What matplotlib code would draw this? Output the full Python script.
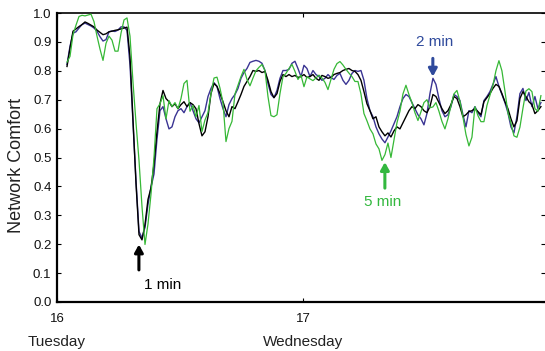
import numpy as np
import matplotlib
matplotlib.use("Agg")
import matplotlib.pyplot as plt
import matplotlib.transforms as mtransforms

plt.rcParams['font.family'] = ['Liberation Sans', 'DejaVu Sans']

# ---- data ----
t_start = 16.0407          # day of month (first sample)
sample_minutes = 17.56     # resampled interval

comfort_1min = [
    .815, .878, .937, .945, .953, .960, .969, .964, .958, .952,
    .941, .933, .925, .928, .935, .937, .940, .942, .945, .948,
    .951, .850, .634, .410, .233, .215, .268, .355, .395, .477,
    .590, .686, .732, .704, .693, .676, .686, .669, .683, .693,
    .676, .690, .683, .669, .617, .575, .589, .641, .721, .756,
    .746, .721, .693, .662, .641, .676, .669, .693, .718, .746,
    .763, .780, .801, .798, .801, .794, .798, .767, .728, .707,
    .721, .763, .787, .780, .787, .780, .784, .777, .780, .787,
    .777, .780, .787, .774, .767, .784, .780, .774, .777, .787,
    .791, .794, .801, .805, .808, .801, .798, .787, .767, .728,
    .686, .662, .634, .641, .606, .589, .575, .585, .571, .592,
    .606, .599, .620, .641, .662, .676, .669, .683, .676, .662,
    .655, .676, .718, .711, .690, .669, .652, .662, .683, .711,
    .704, .676, .641, .648, .659, .662, .669, .659, .648, .693,
    .707, .721, .739, .753, .746, .721, .693, .669, .634, .606,
    .627, .704, .728, .711, .693, .683, .652, .662, .676,
]

comfort_2min = [
    .822, .885, .930, .935, .948, .960, .965, .960, .955, .948,
    .937, .918, .903, .908, .935, .938, .936, .941, .952, .952,
    .940, .820, .620, .420, .244, .222, .258, .338, .397, .443,
    .564, .662, .676, .634, .599, .606, .641, .662, .669, .655,
    .676, .690, .662, .634, .620, .641, .662, .711, .739, .759,
    .746, .704, .669, .641, .683, .704, .718, .739, .774, .794,
    .808, .829, .833, .836, .833, .826, .801, .756, .718, .707,
    .732, .774, .801, .801, .805, .826, .833, .808, .780, .819,
    .808, .780, .801, .787, .780, .767, .774, .787, .777, .770,
    .784, .791, .767, .753, .767, .791, .801, .798, .801, .767,
    .704, .662, .641, .606, .582, .564, .551, .571, .592, .617,
    .641, .676, .704, .718, .711, .690, .669, .648, .634, .613,
    .652, .721, .774, .753, .704, .662, .641, .648, .676, .718,
    .711, .697, .648, .606, .662, .655, .676, .655, .641, .697,
    .711, .728, .753, .780, .746, .718, .690, .655, .606, .585,
    .641, .721, .739, .697, .725, .676, .711, .669, .690,
]

comfort_5min = [
    .830, .850, .925, .958, .988, .992, .990, .993, .996, .970,
    .920, .875, .836, .895, .920, .906, .868, .868, .930, .976,
    .983, .920, .760, .620, .490, .330, .199, .270, .373, .500,
    .669, .686, .714, .634, .697, .676, .690, .669, .704, .756,
    .767, .660, .680, .641, .680, .590, .630, .655, .720, .775,
    .778, .740, .690, .555, .600, .625, .720, .750, .780, .805,
    .770, .748, .775, .800, .812, .822, .801, .711, .645, .641,
    .648, .721, .780, .791, .808, .822, .798, .770, .785, .745,
    .779, .772, .766, .775, .785, .775, .760, .735, .770, .805,
    .825, .832, .820, .805, .792, .780, .763, .763, .720, .652,
    .627, .599, .582, .547, .530, .490, .510, .550, .500, .560,
    .620, .660, .720, .750, .718, .690, .655, .628, .658, .690,
    .700, .672, .675, .690, .660, .625, .599, .634, .679, .720,
    .732, .695, .640, .580, .540, .570, .676, .645, .624, .624,
    .680, .715, .750, .800, .835, .800, .730, .655, .620, .575,
    .570, .605, .670, .730, .738, .728, .669, .660, .714,
]

x_ticks = [16, 17]
x_tick_labels = ['16', '17']
day_names = ['Tuesday', 'Wednesday']
y_ticks = [0.0, 0.1, 0.2, 0.3, 0.4, 0.5, 0.6, 0.7, 0.8, 0.9, 1.0]

annotations = [  # label, time, arrow tip value, arrow tail value, text time, text value
    ('1 min', 16.333, 0.199, 0.111, 16.431, 0.059),
    ('2 min', 17.528, 0.780, 0.843, 17.537, 0.899),
    ('5 min', 17.333, 0.484, 0.394, 17.325, 0.345),
]

# ---- plot ----
n = len(comfort_1min)
t = t_start + np.arange(n) * sample_minutes / 1440.0

c_black = 'black'
c_blue = '#3a3493'
c_green = '#36b836'
c_blue_text = '#2f4a9c'
c_green_text = '#33b83f'

fig = plt.figure(figsize=(5.45, 3.51), dpi=100)
ax = fig.add_axes([57 / 545, 49 / 351, 488 / 545, 289 / 351])

ax.plot(t, comfort_2min, color=c_blue, lw=1.0, zorder=2)
ax.plot(t, comfort_1min, color=c_black, lw=1.0, zorder=3)
ax.plot(t, comfort_5min, color=c_green, lw=0.9, zorder=4)

ax.set_xlim(16.0, 17.984)
ax.set_ylim(0.0, 1.0)

ax.set_xticks(x_ticks)
ax.set_xticklabels(x_tick_labels, fontsize=9.5, color='#111111')
ax.set_yticks(y_ticks)
ax.set_yticklabels([f'{v:.1f}' for v in y_ticks], fontsize=9.5, color='#111111')
ax.tick_params(direction='in', length=3, width=0.8, top=True, right=True)
ax.tick_params(axis='y', pad=4)
ax.tick_params(axis='x', pad=8)

for side in ['left', 'bottom']:
    ax.spines[side].set_linewidth(1.6)
ax.spines['top'].set_linewidth(1.2)
ax.spines['right'].set_visible(False)

trans = mtransforms.blended_transform_factory(ax.transData, ax.transAxes)
for d, name in zip(x_ticks, day_names):
    ax.text(d, -0.138, name, transform=trans, ha='center', va='center',
            fontsize=11, color='#222222')

fig.text(17 / 545, 1 - 165 / 351, 'Network Comfort', rotation=90,
         ha='center', va='center', fontsize=13, color='#222222')

colors = {'1 min': c_black, '2 min': c_blue_text, '5 min': c_green_text}
for label, tx, tip, tail, lx, ly in annotations:
    col = colors[label]
    ax.annotate('', xy=(tx, tip), xytext=(tx, tail),
                arrowprops=dict(arrowstyle='-|>,head_width=0.25,head_length=0.45',
                                lw=2.2, color=col, shrinkA=0, shrinkB=0),
                zorder=6)
    ax.text(lx, ly, label, ha='center', va='center', fontsize=11,
            color=col, fontweight='medium', zorder=6)

fig.savefig('out.png', dpi=100)
